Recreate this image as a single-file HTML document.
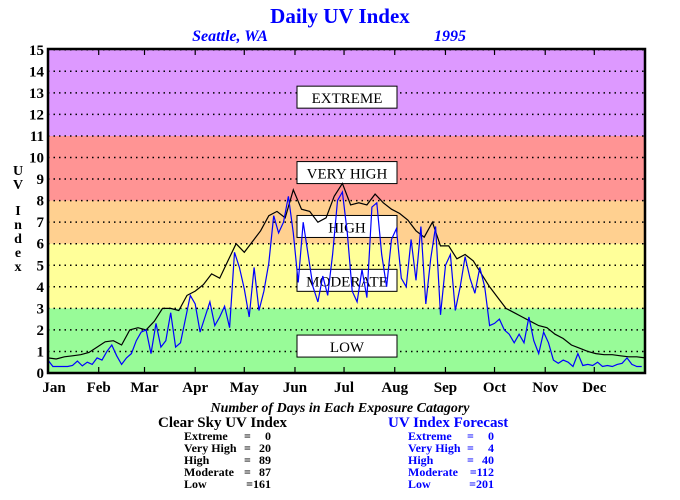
<!DOCTYPE html>
<html><head><meta charset="utf-8"><style>
body{margin:0;background:#fff;}
svg{display:block;font-family:"Liberation Serif",serif;}
</style></head><body>
<svg id="c" width="680" height="500" viewBox="0 0 680 500">
<g id="bands"></g><g id="grid"></g><g id="boxes"></g><g id="lines"></g><g id="axes"></g>
<text x="340" y="23" text-anchor="middle" font-size="21" font-weight="bold" fill="#0000ff">Daily UV Index</text>
<text x="230" y="41" text-anchor="middle" font-size="16" font-weight="bold" font-style="italic" fill="#0000ff">Seattle, WA</text>
<text x="450" y="41" text-anchor="middle" font-size="16" font-weight="bold" font-style="italic" fill="#0000ff">1995</text>
<g font-size="14" font-weight="bold" text-anchor="middle">
<text x="18" y="175">U</text><text x="18" y="189">V</text><text x="18" y="215">I</text><text x="18" y="229">n</text><text x="18" y="243">d</text><text x="18" y="257">e</text><text x="18" y="271">x</text>
</g>
<text x="340" y="412" text-anchor="middle" font-size="14" font-style="italic" font-weight="bold">Number of Days in Each Exposure Catagory</text>
<g>
<text x="158" y="427" font-size="15" font-weight="bold">Clear Sky UV Index</text>
<g font-size="12" font-weight="bold">
<text x="184" y="440">Extreme</text><text x="244" y="440">=</text><text x="271" y="440" text-anchor="end">0</text>
<text x="184" y="452">Very High</text><text x="244" y="452">=</text><text x="271" y="452" text-anchor="end">20</text>
<text x="184" y="464">High</text><text x="244" y="464">=</text><text x="271" y="464" text-anchor="end">89</text>
<text x="184" y="476">Moderate</text><text x="244" y="476">=</text><text x="271" y="476" text-anchor="end">87</text>
<text x="184" y="488">Low</text><text x="271" y="488" text-anchor="end">=161</text>
</g></g>
<g fill="#0000ff">
<text x="388" y="427" font-size="15" font-weight="bold">UV Index Forecast</text>
<g font-size="12" font-weight="bold">
<text x="408" y="440">Extreme</text><text x="467" y="440">=</text><text x="494" y="440" text-anchor="end">0</text>
<text x="408" y="452">Very High</text><text x="467" y="452">=</text><text x="494" y="452" text-anchor="end">4</text>
<text x="408" y="464">High</text><text x="467" y="464">=</text><text x="494" y="464" text-anchor="end">40</text>
<text x="408" y="476">Moderate</text><text x="494" y="476" text-anchor="end">=112</text>
<text x="408" y="488">Low</text><text x="494" y="488" text-anchor="end">=201</text>
</g></g>
</svg>
<script>
const months=["Jan","Feb","Mar","Apr","May","Jun","Jul","Aug","Sep","Oct","Nov","Dec"];
const monthStartDays=[0,31,59,90,120,151,181,212,243,273,304,334];
const yTicks=[0,1,2,3,4,5,6,7,8,9,10,11,12,13,14,15];
const bandLimits=[0,3,6,8,11,15];
const bandColors=["#98fb98","#ffff99","#ffd090","#ff9494","#dd99ff"];
const categoryLabels=["LOW","MODERATE","HIGH","VERY HIGH","EXTREME"];
const categoryLabelValues=[1.25,4.3,6.8,9.3,12.8];
const clearSkyStep=5;
const clearSky=[0.7,0.65,0.75,0.8,0.85,0.95,1.2,1.45,1.5,1.3,2.0,2.1,2.0,2.4,3.0,3.0,2.9,3.6,3.8,4.1,4.6,4.4,5.2,6.0,5.6,6.1,6.6,7.3,7.5,7.2,8.5,7.6,7.5,7.0,7.2,8.2,8.8,7.8,7.9,7.8,8.3,7.9,7.6,7.4,7.1,6.6,6.3,7.0,5.9,5.9,5.3,5.5,5.2,4.6,4.0,3.5,3.0,2.8,2.6,2.4,2.2,2.1,1.8,1.6,1.3,1.15,1.0,0.9,0.85,0.85,0.8,0.75,0.75,0.7];
const forecastStep=3;
const forecast=[0.6,0.3,0.3,0.3,0.3,0.35,0.55,0.33,0.5,0.4,0.7,0.6,1.0,1.3,0.8,0.4,0.7,0.9,1.5,1.9,2.0,0.9,2.3,1.2,1.5,2.8,1.2,1.4,2.5,3.6,3.2,1.9,2.6,3.3,2.2,2.6,3.1,2.1,5.6,4.9,3.9,2.6,4.9,2.9,3.8,5.1,7.3,6.5,7.0,8.2,6.5,4.2,7.0,5.5,4.0,3.3,4.5,3.6,5.5,8.0,8.4,6.5,3.8,3.3,4.8,3.5,7.7,7.9,5.5,4.0,6.2,6.7,4.4,4.0,6.2,4.3,6.8,3.2,5.3,6.8,2.7,5.0,5.5,2.9,4.0,5.4,4.4,3.7,4.9,4.0,2.2,2.3,2.5,2.0,1.8,1.4,1.8,1.4,2.6,1.5,0.9,1.9,1.4,0.6,0.45,0.6,0.5,0.3,0.9,0.35,0.4,0.35,0.5,0.3,0.35,0.3,0.4,0.45,0.7,0.4,0.3,0.3];

const NS="http://www.w3.org/2000/svg";
const L=48,R=645,T=49,B=373;
const xS=d=>L+d*(R-L)/365;
const yS=v=>B-v*21.55;
function mk(tag,attrs,parent){const e=document.createElementNS(NS,tag);for(const k in attrs)e.setAttribute(k,attrs[k]);document.getElementById(parent).appendChild(e);return e;}

for(let i=0;i<bandColors.length;i++){
  const top=i===bandColors.length-1?T:yS(bandLimits[i+1]);
  const r=mk('rect',{x:L,y:top,width:R-L,height:yS(bandLimits[i])-top,fill:bandColors[i]},'bands');
  
  
}
yTicks.forEach(v=>{
  if(v>0){const g=mk('line',{x1:L,x2:R,y1:yS(v),y2:yS(v),stroke:'#000','stroke-width':1.5,'stroke-dasharray':'1.5 4'},'grid');
  
  }
  const t=mk('text',{x:44,y:yS(v)+5,'text-anchor':'end','font-size':15,'font-weight':'bold'},'axes');
  t.textContent=v;
  
  
});
categoryLabels.forEach((c,i)=>{
  const cy=yS(categoryLabelValues[i]);
  const r=mk('rect',{x:297,y:cy-11,width:100,height:22,fill:'#fff',stroke:'#000','stroke-width':1},'boxes');
  
  
  const t=mk('text',{x:347,y:cy+6,'text-anchor':'middle','font-size':15},'boxes');
  t.textContent=c;
  
  
});
function poly(arr,step,color,name){
  const pts=arr.map((v,i)=>xS(Math.min(i*step,365)).toFixed(1)+','+yS(v).toFixed(1)).join(' ');
  const p=mk('polyline',{points:pts,fill:'none',stroke:color,'stroke-width':1.2},'lines');
  
  
}
poly(clearSky,clearSkyStep,'#000','clear-sky-line');
poly(forecast,forecastStep,'#0000ff','forecast-line');
const f=mk('rect',{x:L,y:T,width:R-L,height:B-T,fill:'none',stroke:'#000','stroke-width':2.5},'axes');


months.forEach((m,i)=>{
  const x=xS(monthStartDays[i]);
  const a=mk('line',{x1:x,x2:x,y1:B,y2:B-6,stroke:'#000','stroke-width':1.2},'axes');
  
  
  const b=mk('line',{x1:x,x2:x,y1:T,y2:T+6,stroke:'#000','stroke-width':1.2},'axes');
  
  
  const t=mk('text',{x:i===0?54:x,y:392,'text-anchor':'middle','font-size':15,'font-weight':'bold'},'axes');
  t.textContent=m;
  
  
});
</script>
</body></html>
